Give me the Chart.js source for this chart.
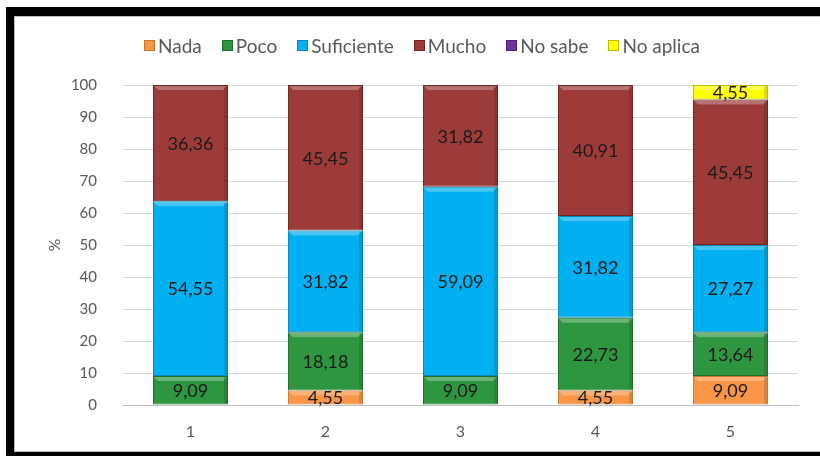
<!DOCTYPE html>
<html>
<head>
<meta charset="utf-8">
<script src="https://cdn.jsdelivr.net/npm/chart.js@4"></script>
<style>
  html, body { margin: 0; padding: 0; background: #fff; }
  #wrap { position: relative; width: 820px; height: 456px; overflow: hidden; }
  #frame {
    position: absolute; left: 6px; top: 7px; width: 900px; height: 436px;
    border-left: 8px solid #000; border-top: 9px solid #000; border-bottom: 8px solid #000;
    box-shadow: inset 1px 1px 0 #bdbdbd, inset 0 -1px 0 #bdbdbd;
    pointer-events: none;
  }
  #legend {
    position: absolute; left: 14px; right: 0; top: 33px; height: 24px;
    display: flex; justify-content: center; padding-left: 10px;
    font-family: Lato, sans-serif; font-size: 19px; color: #595959;
  }
  #legend span.item { display: flex; align-items: center; margin: 0 10px; }
  #legend span.box { display: inline-block; width: 9px; height: 9px; margin-right: 3px; }
</style>
</head>
<body>
<div id="wrap">
  <canvas id="myChart" width="820" height="456"></canvas>
  <div id="legend"></div>
  <div id="frame"></div>
</div>
<script>
const categories = ['1', '2', '3', '4', '5'];
const nada = [0, 4.55, 0, 4.55, 9.09];
const poco = [9.09, 18.18, 9.09, 22.73, 13.64];
const suficiente = [54.55, 31.82, 59.09, 31.82, 27.27];
const mucho = [36.36, 45.45, 31.82, 40.91, 45.45];
const noSabe = [0, 0, 0, 0, 0];
const noAplica = [0, 0, 0, 0, 4.55];

const seriesNames = ['Nada', 'Poco', 'Suficiente', 'Mucho', 'No sabe', 'No aplica'];
const seriesData = [nada, poco, suficiente, mucho, noSabe, noAplica];
const fills = ['#F79646', '#2E9640', '#00B0F0', '#9C3B39', '#7030A0', '#FFFF00'];
const edges = ['#C9772F', '#1F6E29', '#0088B8', '#6E2422', '#4E1F70', '#BDBD00'];

// legend as html
const legend = document.getElementById('legend');
seriesNames.forEach(function(name, i){
    const item = document.createElement('span');
    item.className = 'item';
    const box = document.createElement('span');
    box.className = 'box';
    box.style.background = fills[i];
    box.style.border = '1px solid ' + edges[i];
    item.appendChild(box);
    item.appendChild(document.createTextNode(name));
    legend.appendChild(item);
});

// value labels in the middle of each segment
const segmentLabels = {
    id: 'segmentLabels',
    afterDatasetsDraw(chart) {
        const ctx = chart.ctx;
        ctx.save();
        ctx.font = '18px Lato, sans-serif';
        ctx.fillStyle = '#1a1a1a';
        ctx.textAlign = 'center';
        ctx.textBaseline = 'middle';
        chart.data.datasets.forEach(function(ds, i){
            const meta = chart.getDatasetMeta(i);
            meta.data.forEach(function(bar, j){
                const v = ds.data[j];
                if (!v) return;
                const y = (bar.y + bar.base) / 2 + 1;
                ctx.fillText(v.toFixed(2).replace('.', ','), bar.x, y);
            });
        });
        ctx.restore();
    }
};

// light bevel on top of each segment
const bevel = {
    id: 'bevel',
    afterDatasetsDraw(chart) {
        const ctx = chart.ctx;
        ctx.save();
        chart.data.datasets.forEach(function(ds, i){
            chart.getDatasetMeta(i).data.forEach(function(bar, j){
                if (!ds.data[j]) return;
                const l = bar.x - bar.width / 2, r = bar.x + bar.width / 2;
                const t = bar.y, b = bar.base;
                const h = Math.min(4, (b - t) / 3);
                ctx.fillStyle = 'rgba(255,255,255,0.28)';
                ctx.beginPath();
                ctx.moveTo(l + 1, t + 1); ctx.lineTo(r - 1, t + 1);
                ctx.lineTo(r - 1 - h, t + 1 + h); ctx.lineTo(l + 1 + h, t + 1 + h);
                ctx.closePath(); ctx.fill();
                ctx.fillStyle = 'rgba(0,0,0,0.12)';
                ctx.fillRect(r - 4, t + 1, 3, b - t - 2);
            });
        });
        ctx.restore();
    }
};

const ctx = document.getElementById('myChart').getContext('2d');
const myChart = new Chart(ctx, {
    type: 'bar',
    data: {
        labels: categories,
        datasets: seriesNames.map(function(name, i){
            return {
                label: name,
                data: seriesData[i],
                backgroundColor: fills[i],
                borderColor: edges[i],
                borderWidth: 1,
                borderSkipped: false,
                barPercentage: 0.556,
                categoryPercentage: 1
            };
        })
    },
    options: {
        responsive: false,
        animation: false,
        layout: { padding: { left: 0, right: 22, top: 85, bottom: 0 } },
        plugins: {
            legend: { display: false },
            tooltip: { enabled: false }
        },
        scales: {
            x: {
                stacked: true,
                grid: { display: false, drawTicks: false },
                border: { color: '#BFBFBF', width: 1 },
                ticks: { color: '#595959', font: { family: 'Lato', size: 16 }, padding: 17 },
                afterFit: function(scale){ scale.height = 51; }
            },
            y: {
                stacked: true,
                min: 0,
                max: 100,
                ticks: { stepSize: 10, color: '#595959', font: { family: 'Lato', size: 15 }, padding: 26 },
                grid: { color: '#D9D9D9', drawTicks: false },
                border: { display: false },
                title: { display: true, text: '%', color: '#595959', font: { family: 'Lato', size: 16, lineHeight: 1.2 }, padding: { top: 45, bottom: 0 } },
                afterFit: function(scale){ scale.width = 123; }
            }
        }
    },
    plugins: [bevel, segmentLabels]
});
</script>
</body>
</html>
